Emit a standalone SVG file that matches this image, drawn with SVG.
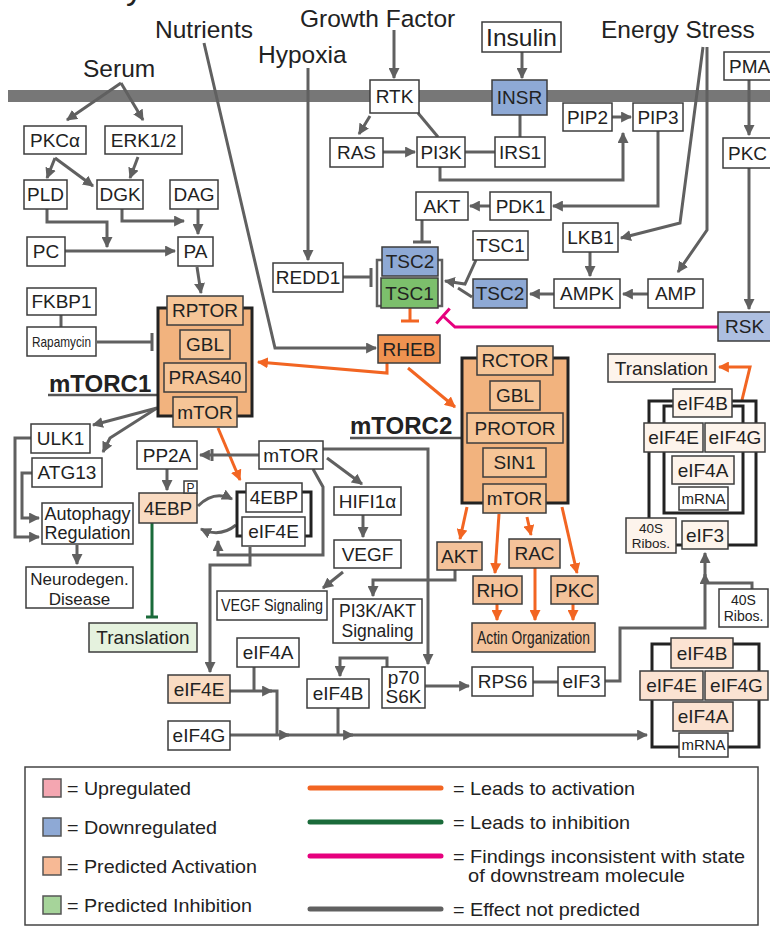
<svg xmlns="http://www.w3.org/2000/svg" width="770" height="930" viewBox="0 0 770 930">
<style>
text{font-family:"Liberation Sans",Arial,sans-serif;font-size:19px;fill:#222;text-anchor:middle}
.n{fill:#fff;stroke:#3c3c3c;stroke-width:1.5}
.bl{fill:#8ea9d5}
.lb{fill:#adbfe1}
.gr{fill:#7cbf6c}
.rh{fill:#ef9250}
.co{fill:#f2b37e;stroke:#222;stroke-width:3}
.ci{fill:#f6c597}
.pa{fill:#f4c29a}
.lp{fill:#f9dbc2}
.cr{fill:#fdf4ec}
.pk{fill:#fbe3d2}
.tg{fill:#e5f2de}
.cx{fill:none;stroke:#222;stroke-width:3}
.e{fill:none;stroke:#606060;stroke-width:3}
.o{fill:none;stroke:#f26522;stroke-width:3}
.ea{marker-end:url(#ag)}
.oa{marker-end:url(#ao)}
.big{font-size:24.5px;text-anchor:start}
.bold{font-weight:bold;font-size:24px;text-anchor:start}
.st{text-anchor:start}
</style>
<defs>
<marker id="ag" viewBox="0 0 10 10" refX="9" refY="5" markerWidth="11" markerHeight="11" markerUnits="userSpaceOnUse" orient="auto"><path d="M0,0L10,5L0,10z" fill="#606060"/></marker>
<marker id="ao" viewBox="0 0 10 10" refX="9" refY="5" markerWidth="11" markerHeight="11" markerUnits="userSpaceOnUse" orient="auto"><path d="M0,0L10,5L0,10z" fill="#f26522"/></marker>
</defs>
<rect width="770" height="930" fill="#fff"/>
<text x="126" y="-1" style="font-size:34px;text-anchor:start">y</text>
<rect id="membrane" x="8" y="90" width="762" height="12" fill="#777"/>
<text class="big" x="83" y="77">Serum</text>
<text class="big" x="155" y="38">Nutrients</text>
<text class="big" x="300" y="27">Growth Factor</text>
<text class="big" x="258" y="63">Hypoxia</text>
<text class="big" x="601" y="38">Energy Stress</text>

<g id="edges">
<path class="e ea" d="M121,83L67,120"/>
<path class="e ea" d="M121,83L143,120"/>
<path class="e ea" d="M55,158L47,178"/>
<path class="e ea" d="M55,158L93,186"/>
<path class="e ea" d="M138,157L130,178"/>
<path class="e ea" d="M47,209L47,222L107,222L107,247"/>
<path class="e ea" d="M122,209L122,221L184,221"/>
<path class="e ea" d="M198,209L198,234"/>
<path class="e ea" d="M65,251L175,251"/>
<path class="e ea" d="M197,267L201,293"/>
<path class="e" d="M61,315L61,327"/>
<path class="e" d="M97,342L152,342M152,333L152,351"/>
<path class="e ea" d="M204,43L275,348L376,348"/>
<path class="e ea" d="M308,68L308,260"/>
<path class="e" d="M343,277L371,277M371,268L371,287"/>
<path class="e ea" d="M394,30L394,78"/>
<path class="e ea" d="M522,52L522,78"/>
<path class="e ea" d="M370,116L359,134"/>
<path class="e" d="M418,113L438,137"/>
<path class="e ea" d="M383,152L415,152"/>
<path class="e" d="M465,152L495,152"/>
<path class="e" d="M520,115L520,137"/>
<path class="e ea" d="M440,167L440,180L623,180L623,133"/>
<path class="e ea" d="M612,117L631,117"/>
<path class="e ea" d="M658,131L658,206L553,206"/>
<path class="e ea" d="M490,206L470,206"/>
<path class="e" d="M422,220L422,242M413,242L431,242"/>
<path class="e ea" d="M703,47L680,223L621,238"/>
<path class="e ea" d="M707,47L707,230L678,272"/>
<path class="e ea" d="M590,252L590,276"/>
<path class="e ea" d="M648,294L623,294"/>
<path class="e ea" d="M554,294L530,294"/>
<path class="e ea" d="M476,260L465,284L445,281"/>
<path class="e" d="M472,297L458,288"/>
<path class="e ea" d="M749,80L749,135"/>
<path class="e ea" d="M749,168L749,309"/>
<path d="M718,327L455,327L443,316M449.7,308.6L436.3,323.4" fill="none" stroke="#e6007e" stroke-width="3"/>
<path class="o" d="M410,308L410,321M401,321L419,321"/>
<path class="o oa" d="M387,363L387,373L258,362"/>
<path class="o oa" d="M408,368L455,407"/>
<path class="e ea" d="M157,408L93,425"/>
<path class="e ea" d="M157,408L110,438L103,452"/>
<path class="e ea" d="M31,438L15,438L15,537L39,537"/>
<path class="e ea" d="M32,473L22,473L22,518L39,518"/>
<path class="e ea" d="M77,545L77,564"/>
<path class="o oa" d="M218,428L240,480"/>
<path class="e ea" d="M259,455L200,455"/>
<path class="e" d="M212,449L212,461" stroke-width="2.5"/>
<path class="e ea" d="M167,469L167,490"/>
<path class="e ea" d="M198,506Q214,490 232,499"/>
<path class="e ea" d="M236,525Q220,538 201,529"/>
<path class="e ea" d="M313,469L323,487L323,555L218,555L218,541"/>
<path class="e ea" d="M250,547L250,565L210,565L210,672"/>
<path class="e ea" d="M327,458L362,484"/>
<path class="e ea" d="M363,515L363,537"/>
<path class="e ea" d="M343,572L323,588"/>
<path class="e ea" d="M323,449L428,449L428,664"/>
<path class="e ea" d="M455,570L455,580L373,580L373,596"/>
<path class="o oa" d="M467,507L460,539"/>
<path class="o oa" d="M499,514L495,573"/>
<path class="o oa" d="M527,517L531,535"/>
<path class="o oa" d="M562,507L577,573"/>
<path class="o oa" d="M497,604L497,620"/>
<path class="o oa" d="M535,568L535,620"/>
<path class="o oa" d="M573,604L573,620"/>
<path d="M152,523L152,617M146,617L158,617" fill="none" stroke="#1a6b3a" stroke-width="3"/>
<path class="e" d="M254,667L254,691"/>
<path class="e ea" d="M230,691L272,691"/>
<path class="e" d="M270,691L277,691L277,735"/>
<path class="e ea" d="M230,735L289,735"/>
<path class="e ea" d="M285,735L353,735"/>
<path class="e ea" d="M349,735L647,735"/>
<path class="e" d="M338,708L338,735"/>
<path class="e ea" d="M387,667L387,658L340,658L340,676"/>
<path class="e ea" d="M425,686L469,686"/>
<path class="e" d="M533,682L558,682"/>
<path class="e ea" d="M605,681L620,681L620,628L705,628L705,574"/>
<path class="e ea" d="M705,576L705,553"/>
<path class="e" d="M752,589L752,583L705,583"/>
<path class="o oa" d="M742,400L750,367L719,367"/>
<path d="M48,395L158,395M350,438L462,438" fill="none" stroke="#555" stroke-width="2.5"/>
</g>

<g id="Insulin"><rect class="n" x="482" y="22" width="79" height="30"/><text x="521.5" y="45.5" style="font-size:24.5px">Insulin</text></g>
<g id="PMA"><rect class="n" x="724" y="52" width="52" height="28"/><text class="st" x="729" y="72.7">PMA</text></g>
<g id="RTK"><rect class="n" x="370" y="80" width="49" height="33"/><text x="394.5" y="103.2">RTK</text></g>
<g id="INSR"><rect class="n bl" x="492" y="80" width="55" height="35"/><text x="519.5" y="104.2">INSR</text></g>
<g id="RAS"><rect class="n" x="330" y="138" width="53" height="29"/><text x="356.5" y="159.2">RAS</text></g>
<g id="PI3K"><rect class="n" x="417" y="137" width="48" height="30"/><text x="441" y="158.7">PI3K</text></g>
<g id="IRS1"><rect class="n" x="495" y="137" width="50" height="30"/><text x="520" y="158.7">IRS1</text></g>
<g id="PIP2"><rect class="n" x="563" y="103" width="49" height="28"/><text x="587.5" y="123.7">PIP2</text></g>
<g id="PIP3"><rect class="n" x="633" y="103" width="50" height="28"/><text x="658" y="123.7">PIP3</text></g>
<g id="PKC_r"><rect class="n" x="723" y="138" width="52" height="30"/><text class="st" x="728" y="159.7">PKC</text></g>
<g id="AKT_t"><rect class="n" x="416" y="192" width="52" height="28"/><text x="442" y="212.7">AKT</text></g>
<g id="PDK1"><rect class="n" x="490" y="192" width="61" height="28"/><text x="520.5" y="212.7">PDK1</text></g>
<g id="LKB1"><rect class="n" x="563" y="223" width="55" height="29"/><text x="590.5" y="244.2">LKB1</text></g>
<g id="TSC1_w"><rect class="n" x="473" y="231" width="55" height="29"/><text x="500.5" y="252.2">TSC1</text></g>
<g id="TSC_cluster"><path d="M382,260L377,260L377,306L382,306M438,260L442,260L442,306L438,306" fill="none" stroke="#606060" stroke-width="2.5"/>
<rect class="n bl" x="382" y="247" width="56" height="29"/><text x="410" y="268.2">TSC2</text>
<rect class="n gr" x="381" y="278" width="57" height="30"/><text x="409.5" y="299.7">TSC1</text></g>
<g id="TSC2_r"><rect class="n bl" x="473" y="279" width="54" height="29"/><text x="500" y="300.2">TSC2</text></g>
<g id="AMPK"><rect class="n" x="554" y="279" width="66" height="29"/><text x="587" y="300.2">AMPK</text></g>
<g id="AMP"><rect class="n" x="648" y="279" width="55" height="29"/><text x="675.5" y="300.2">AMP</text></g>
<g id="RSK"><rect class="n lb" x="718" y="312" width="56" height="29"/><text class="st" x="725" y="333.2">RSK</text></g>
<g id="REDD1"><rect class="n" x="273" y="263" width="70" height="29"/><text x="308" y="284.2">REDD1</text></g>
<g id="RHEB"><rect class="n rh" x="378" y="335" width="62" height="28"/><text x="409" y="355.7">RHEB</text></g>

<g id="PKCa"><rect class="n" x="24" y="126" width="62" height="28"/><text x="55" y="146.7">PKCα</text></g>
<g id="ERK"><rect class="n" x="105" y="126" width="77" height="28"/><text x="143.5" y="146.7">ERK1/2</text></g>
<g id="PLD"><rect class="n" x="24" y="180" width="43" height="29"/><text x="45.5" y="201.2">PLD</text></g>
<g id="DGK"><rect class="n" x="97" y="180" width="46" height="29"/><text x="120" y="201.2">DGK</text></g>
<g id="DAG"><rect class="n" x="170" y="180" width="48" height="29"/><text x="194" y="201.2">DAG</text></g>
<g id="PC"><rect class="n" x="27" y="237" width="38" height="29"/><text x="46" y="258.2">PC</text></g>
<g id="PA"><rect class="n" x="178" y="237" width="35" height="29"/><text x="195.5" y="258.2">PA</text></g>
<g id="FKBP1"><rect class="n" x="27" y="288" width="69" height="27"/><text x="61.5" y="308.2">FKBP1</text></g>
<g id="Rapamycin"><rect class="n" x="27" y="327" width="69" height="29"/><text x="61.5" y="346.5" style="font-size:15px" textLength="59" lengthAdjust="spacingAndGlyphs">Rapamycin</text></g>

<g id="mTORC1">
<rect class="co" x="158" y="308" width="94" height="108"/>
<rect class="n ci" x="167" y="296" width="76" height="29"/><text x="205" y="317.2">RPTOR</text>
<rect class="n ci" x="180" y="330" width="50" height="29"/><text x="205" y="351.2">GBL</text>
<rect class="n ci" x="164" y="363" width="82" height="29"/><text x="205" y="384.2">PRAS40</text>
<rect class="n ci" x="173" y="397" width="64" height="30"/><text x="205" y="418.7">mTOR</text>
<text class="bold" x="49" y="392">mTORC1</text>
</g>
<g id="ULK1"><rect class="n" x="31" y="424" width="59" height="29"/><text x="60.5" y="445.2">ULK1</text></g>
<g id="ATG13"><rect class="n" x="32" y="458" width="70" height="29"/><text x="67" y="479.2">ATG13</text></g>
<g id="Autophagy"><rect class="n" x="42" y="503" width="91" height="41"/><text style="font-size:18px"><tspan x="87.5" y="520">Autophagy</tspan><tspan x="87.5" y="539">Regulation</tspan></text></g>
<g id="Neurodegen"><rect class="n" x="26" y="567" width="107" height="41"/><text style="font-size:17px"><tspan x="79.5" y="585">Neurodegen.</tspan><tspan x="79.5" y="605">Disease</tspan></text></g>
<g id="PP2A"><rect class="n" x="137" y="441" width="60" height="28"/><text x="167" y="461.7">PP2A</text></g>
<g id="mTOR_w"><rect class="n" x="259" y="441" width="64" height="28"/><text x="291" y="461.7">mTOR</text></g>
<g id="4EBP_P"><rect class="n lp" x="139" y="493" width="58" height="30"/><text x="168" y="514.7">4EBP</text>
<rect class="n" x="184" y="481" width="13" height="12"/><text x="190.5" y="491.5" style="font-size:12px">P</text></g>
<g id="4EBP_eIF4E">
<rect class="cx" x="237" y="492" width="74" height="44" fill="#fff"/>
<rect class="n" x="246" y="483" width="56" height="29" fill="#f5bd8e"/><text x="274" y="504.2">4EBP</text>
<rect class="n" x="242" y="517" width="63" height="29" fill="#f9d5b6"/><text x="273.5" y="538.2">eIF4E</text>
</g>
<g id="HIF1a"><rect class="n" x="334" y="487" width="67" height="28"/><text x="367.5" y="507.7">HIFI1α</text></g>
<g id="VEGF"><rect class="n" x="334" y="540" width="67" height="28"/><text x="367.5" y="560.7">VEGF</text></g>
<g id="VEGF_sig"><rect class="n" x="217" y="591" width="110" height="29"/><text x="272" y="611" style="font-size:17px" textLength="102" lengthAdjust="spacingAndGlyphs">VEGF Signaling</text></g>
<g id="PI3K_sig"><rect class="n" x="333" y="599" width="89" height="44"/><text style="font-size:17.5px"><tspan x="377.5" y="616.5">PI3K/AKT</tspan><tspan x="377.5" y="637">Signaling</tspan></text></g>
<g id="Translation_l"><rect class="n tg" x="89" y="623" width="108" height="29"/><text x="143" y="644.2">Translation</text></g>
<g id="eIF4A_l"><rect class="n" x="237" y="638" width="62" height="29"/><text x="268" y="659.2">eIF4A</text></g>
<g id="eIF4E_l"><rect class="n lp" x="168" y="675" width="62" height="28"/><text x="199" y="695.7">eIF4E</text></g>
<g id="eIF4G_l"><rect class="n" x="168" y="721" width="62" height="29"/><text x="199" y="742.2">eIF4G</text></g>
<g id="eIF4B_l"><rect class="n" x="307" y="679" width="62" height="29"/><text x="338" y="700.2">eIF4B</text></g>
<g id="p70S6K"><rect class="n" x="382" y="667" width="43" height="41"/><text><tspan x="403.5" y="684">p70</tspan><tspan x="403.5" y="703">S6K</tspan></text></g>
<g id="RPS6"><rect class="n" x="472" y="667" width="61" height="29"/><text x="502.5" y="688.2">RPS6</text></g>
<g id="eIF3_l"><rect class="n" x="558" y="667" width="47" height="29"/><text x="581.5" y="688.2">eIF3</text></g>
<g id="Actin"><rect class="n pa" x="472" y="623" width="123" height="29"/><text x="533.5" y="643.5" style="font-size:18px" textLength="113" lengthAdjust="spacingAndGlyphs">Actin Organization</text></g>
<g id="AKT_o"><rect class="n pa" x="437" y="542" width="45" height="28"/><text x="459.5" y="562.7">AKT</text></g>
<g id="RAC"><rect class="n pa" x="509" y="539" width="51" height="29"/><text x="534.5" y="560.2">RAC</text></g>
<g id="RHO"><rect class="n pa" x="473" y="576" width="49" height="28"/><text x="497.5" y="596.7">RHO</text></g>
<g id="PKC_o"><rect class="n pa" x="551" y="576" width="47" height="28"/><text x="574.5" y="596.7">PKC</text></g>

<g id="mTORC2">
<rect class="co" x="462" y="358" width="106" height="145"/>
<rect class="n ci" x="477" y="346" width="76" height="29"/><text x="515" y="367.2">RCTOR</text>
<rect class="n ci" x="490" y="381" width="50" height="29"/><text x="515" y="402.2">GBL</text>
<rect class="n ci" x="467" y="413" width="96" height="30"/><text x="515" y="434.7">PROTOR</text>
<rect class="n ci" x="483" y="448" width="63" height="29"/><text x="514.5" y="469.2">SIN1</text>
<rect class="n ci" x="483" y="484" width="63" height="29"/><text x="514.5" y="505.2">mTOR</text>
<text class="bold" x="350" y="434">mTORC2</text>
</g>
<g id="Translation_r"><rect class="n cr" x="608" y="354" width="107" height="28"/><text x="661.5" y="374.7">Translation</text></g>
<g id="eIF_complex_top">
<rect class="cx" x="649" y="401" width="107" height="144" fill="#fdf4ec"/>
<rect class="cx" x="664" y="406" width="79" height="107"/>
<rect class="n cr" x="673" y="389" width="59" height="28"/><text x="702.5" y="409.7">eIF4B</text>
<rect class="n cr" x="644" y="423" width="59" height="29"/><text x="673.5" y="444.2">eIF4E</text>
<rect class="n cr" x="705" y="423" width="60" height="29"/><text x="735" y="444.2">eIF4G</text>
<rect class="n cr" x="672" y="456" width="62" height="28"/><text x="703" y="476.7">eIF4A</text>
<rect class="n" x="679" y="487" width="49" height="23"/><text x="703.5" y="503.5" style="font-size:15px">mRNA</text>
<rect class="n cr" x="626" y="518" width="50" height="35"/><text style="font-size:13.5px"><tspan x="651" y="533">40S</tspan><tspan x="651" y="548">Ribos.</tspan></text>
<rect class="n cr" x="682" y="521" width="46" height="28"/><text x="705" y="541.7">eIF3</text>
</g>
<g id="Ribos40S_l"><rect class="n" x="719" y="589" width="49" height="38"/><text style="font-size:14px"><tspan x="743.5" y="605">40S</tspan><tspan x="743.5" y="621">Ribos.</tspan></text></g>
<g id="eIF_complex_low">
<rect class="cx" x="652" y="644" width="107" height="103" fill="#fbe3d2"/>
<rect class="n pk" x="671" y="638" width="62" height="30"/><text x="702" y="659.7">eIF4B</text>
<rect class="n pk" x="640" y="671" width="63" height="29"/><text x="671.5" y="692.2">eIF4E</text>
<rect class="n pk" x="705" y="671" width="63" height="29"/><text x="736.5" y="692.2">eIF4G</text>
<rect class="n pk" x="673" y="702" width="60" height="29"/><text x="703" y="723.2">eIF4A</text>
<rect class="n" x="679" y="733" width="49" height="24"/><text x="703.5" y="750" style="font-size:15px">mRNA</text>
</g>

<g id="legend">
<rect x="25" y="767" width="733" height="158" fill="#fff" stroke="#444" stroke-width="1.5"/>
<rect x="43" y="779" width="18" height="18" fill="#f4a6b1" stroke="#555" stroke-width="1.5"/>
<rect x="43" y="818" width="18" height="18" fill="#8ea9d5" stroke="#555" stroke-width="1.5"/>
<rect x="43" y="857" width="18" height="18" fill="#f7b995" stroke="#555" stroke-width="1.5"/>
<rect x="43" y="896" width="18" height="18" fill="#a6d49a" stroke="#555" stroke-width="1.5"/>
<text class="st" x="67" y="795" textLength="124" lengthAdjust="spacingAndGlyphs">= Upregulated</text>
<text class="st" x="67" y="834" textLength="150" lengthAdjust="spacingAndGlyphs">= Downregulated</text>
<text class="st" x="67" y="873" textLength="190" lengthAdjust="spacingAndGlyphs">= Predicted Activation</text>
<text class="st" x="67" y="912" textLength="185" lengthAdjust="spacingAndGlyphs">= Predicted Inhibition</text>
<path d="M310,788L441,788" stroke="#f26522" stroke-width="5" stroke-linecap="round"/>
<path d="M310,822L441,822" stroke="#1a6b3a" stroke-width="5" stroke-linecap="round"/>
<path d="M310,856L441,856" stroke="#e6007e" stroke-width="5" stroke-linecap="round"/>
<path d="M310,909L441,909" stroke="#606060" stroke-width="5" stroke-linecap="round"/>
<text class="st" x="453" y="795" textLength="182" lengthAdjust="spacingAndGlyphs">= Leads to activation</text>
<text class="st" x="453" y="829" textLength="177" lengthAdjust="spacingAndGlyphs">= Leads to inhibition</text>
<text class="st" x="453" y="863" textLength="292" lengthAdjust="spacingAndGlyphs">= Findings inconsistent with state</text>
<text class="st" x="468" y="882" textLength="217" lengthAdjust="spacingAndGlyphs">of downstream molecule</text>
<text class="st" x="453" y="916" textLength="187" lengthAdjust="spacingAndGlyphs">= Effect not predicted</text>
</g>
</svg>
